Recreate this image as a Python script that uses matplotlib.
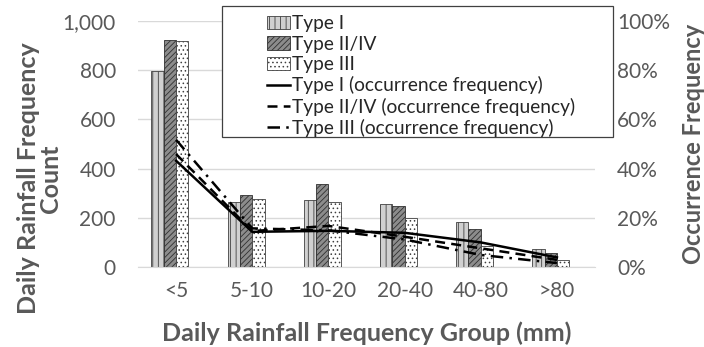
import numpy as np
import matplotlib
matplotlib.use('Agg')
import matplotlib.pyplot as plt
from matplotlib.patches import Rectangle
from matplotlib.ticker import FuncFormatter, PercentFormatter

plt.rcParams['font.family'] = ['Lato', 'DejaVu Sans']
plt.rcParams['hatch.linewidth'] = 0.6

# data
groups = ['<5', '5-10', '10-20', '20-40', '40-80', '>80']
type1_count = [797, 263, 272, 257, 184, 72]
type24_count = [923, 293, 336, 248, 153, 58]
type3_count = [917, 278, 265, 198, 87, 28]
type1_pct = [43.2, 14.3, 14.7, 13.9, 10.0, 3.9]
type24_pct = [45.9, 14.6, 16.7, 12.3, 7.6, 2.9]
type3_pct = [51.7, 15.7, 14.9, 11.2, 4.9, 1.6]

grey = '#595959'
x = np.arange(len(groups))
w = 0.162

fig = plt.figure(figsize=(7.04, 3.47), dpi=100)
ax = fig.add_axes([138 / 704, 1 - 267 / 347, 457 / 704, 246 / 347])
ax2 = ax.twinx()

# four slots per category, last one empty (as in the Excel original)
b1 = ax.bar(x - 1.5 * w, type1_count, w, color='#d0d0d0', edgecolor='#404040',
            hatch='|||', linewidth=0.6, zorder=2)
b2 = ax.bar(x - 0.5 * w, type24_count, w, color='#8c8c8c', edgecolor='#303030',
            hatch='//////', linewidth=0.6, zorder=2)
b3 = ax.bar(x + 0.5 * w, type3_count, w, color='white', edgecolor='#404040',
            hatch='....', linewidth=0.6, zorder=2)

l1, = ax2.plot(x, type1_pct, color='black', lw=1.8, ls='-')
l2, = ax2.plot(x, type24_pct, color='black', lw=1.8, ls=(0, (4, 2.5)))
l3, = ax2.plot(x, type3_pct, color='black', lw=1.8, ls=(0, (5, 2.5, 1, 2.5)))

ax.set_xlim(-0.5, 5.5)
ax.set_ylim(0, 1000)
ax2.set_ylim(0, 100)
ax.set_yticks(np.arange(0, 1001, 200))
ax2.set_yticks(np.arange(0, 101, 20))
ax.yaxis.set_major_formatter(FuncFormatter(lambda v, p: f'{int(v):,}'))
ax2.yaxis.set_major_formatter(PercentFormatter(decimals=0))
ax.set_xticks(x)
ax.set_xticklabels(groups)

ax.grid(axis='y', color='#d9d9d9', lw=1, zorder=0)
ax.set_axisbelow(True)
for a in (ax, ax2):
    for s in a.spines.values():
        s.set_visible(False)
    a.tick_params(length=0, labelsize=15, labelcolor=grey)
ax.spines['bottom'].set_visible(True)
ax.spines['bottom'].set_color('#d9d9d9')
ax.tick_params(axis='x', pad=10)
ax.tick_params(axis='y', pad=16)
ax2.tick_params(axis='y', pad=16)

ax.set_xlabel('Daily Rainfall Frequency Group (mm)', fontsize=18,
              fontweight='bold', color=grey)
ax.xaxis.set_label_coords(0.5, -0.222)
ax.set_ylabel('Daily Rainfall Frequency\nCount', fontsize=18,
              fontweight='bold', color=grey, linespacing=0.95)
ax.yaxis.set_label_coords(-0.166, 0.36)
ax2.set_ylabel('Occurrence Frequency', fontsize=17, fontweight='bold',
               color=grey)
ax2.yaxis.set_label_coords(1.19, 0.5)

# legend box (Excel style, overlapping the plot)
fig.patches.append(Rectangle((222 / 704, 1 - 137 / 347), 391 / 704, 131 / 347,
                             transform=fig.transFigure, facecolor='white',
                             edgecolor='#404040', lw=0.9, zorder=5))
labels = ['Type I', 'Type II/IV', 'Type III',
          'Type I (occurrence frequency)', 'Type II/IV (occurrence frequency)',
          'Type III (occurrence frequency)']
leg = fig.legend([b1, b2, b3, l1, l2, l3], labels, loc='upper left',
                 bbox_to_anchor=(254 / 704, 1 - 2 / 347), frameon=False,
                 fontsize=13.8, handlelength=1.2, handleheight=0.7,
                 handletextpad=0.1, labelspacing=0.17, borderpad=0.2)
leg.set_zorder(6)
for t in leg.get_texts():
    t.set_color('#262626')

fig.savefig('out.png', dpi=100)
